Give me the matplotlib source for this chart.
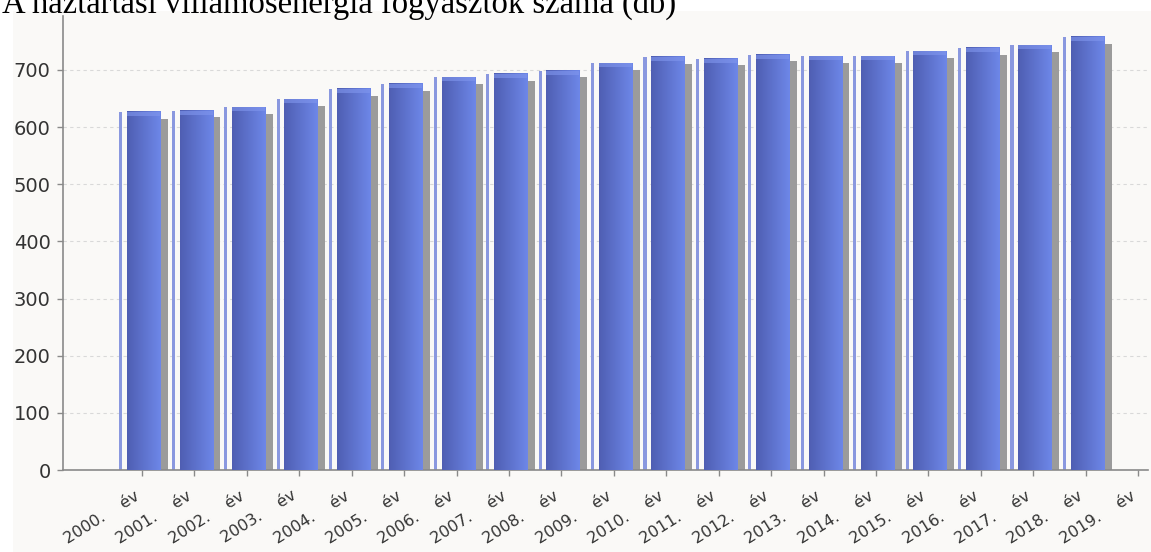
import numpy as np
import matplotlib.pyplot as plt
from matplotlib.patches import Rectangle

years = [2000, 2001, 2002, 2003, 2004, 2005, 2006, 2007, 2008, 2009,
         2010, 2011, 2012, 2013, 2014, 2015, 2016, 2017, 2018, 2019]
# thousand households (no bar drawn for the last tick)
values = [627, 629, 635, 649, 667, 676, 687, 693, 699, 712,
          723, 720, 727, 724, 724, 733, 739, 743, 758, np.nan]
labels = [f'{y}.    év' for y in years]
title = 'A háztartási villamosenergia fogyasztók száma (db)'

W, H = 1151, 552
fig = plt.figure(figsize=(W / 100, H / 100), dpi=100)
fig.patch.set_facecolor('white')
fig.add_artist(Rectangle((13 / W, 0), 1, 1 - 11 / H, transform=fig.transFigure,
                         facecolor='#faf9f7', edgecolor='none', zorder=0))

ax = fig.add_axes([63 / W, 1 - 470 / H, (1148 - 63) / W, (470 - 16) / H])
ax.set_facecolor('#faf9f7')

x = np.arange(len(years))
vals = np.array(values, dtype=float)
ok = np.isfinite(vals)

ax.bar(x[ok] - 0.405, vals[ok], width=0.06, color='#8a98df', zorder=2)
ax.bar(x[ok] + 0.18, vals[ok] - 12, width=0.63, color='#9b9b9b', zorder=2)
main = ax.bar(x[ok] + 0.03, vals[ok], width=0.63, color='#5c6fcf', zorder=3)

# horizontal shading on each bar
grad = np.linspace(0, 1, 64)
c0 = np.array([0.31, 0.37, 0.70])
c1 = np.array([0.43, 0.53, 0.91])
img = (c0[None, :] * (1 - grad[:, None]) + c1[None, :] * grad[:, None])[None, :, :]
for p in main.patches:
    x0, w, h = p.get_x(), p.get_width(), p.get_height()
    ax.imshow(img, extent=[x0, x0 + w, 0, h], aspect='auto', zorder=4,
              interpolation='bilinear')
# lighter cap on top
ax.bar(x[ok] + 0.03, np.full(ok.sum(), 7.0), bottom=vals[ok] - 7, width=0.63,
       color='#8197ee', alpha=0.6, zorder=5)

ax.set_xlim(-1.508, 19.19)
ax.set_ylim(0, 794.5)
ax.set_yticks(range(0, 800, 100))
ax.set_xticks(x, labels, rotation=32, ha='right')

ax.yaxis.grid(True, linestyle=(0, (3, 3)), color='#d9d9d9', linewidth=0.8)
ax.set_axisbelow(True)
for s in ('top', 'right'):
    ax.spines[s].set_visible(False)
for s in ('left', 'bottom'):
    ax.spines[s].set_color('#8a8a8a')
    ax.spines[s].set_linewidth(1.2)
ax.tick_params(color='#8a8a8a', length=4, width=1, labelcolor='#333333')
ax.tick_params(axis='y', labelsize=14, pad=5)
ax.tick_params(axis='x', labelsize=11.5, pad=9)

fig.text(2 / W, 1 - 13 / H, title, fontfamily='Liberation Serif', fontsize=23.5,
         va='baseline', ha='left', color='black')

fig.savefig('out.png', dpi=100)
